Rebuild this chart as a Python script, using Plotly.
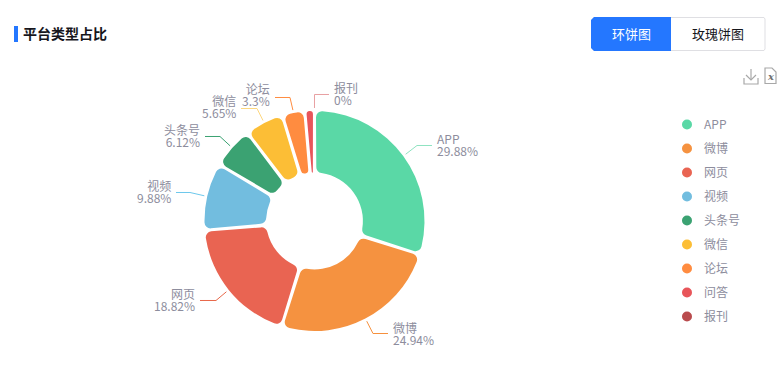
import math
import plotly.graph_objects as go

W, H = 777, 392
names = ["APP", "微博", "网页", "视频", "头条号", "微信", "论坛", "问答", "报刊"]
values = [29.88, 24.94, 18.82, 9.88, 6.12, 5.65, 3.3, 1.41, 0]
colors = ["#5ad8a6", "#f59240", "#e96452", "#72bddf", "#3ba272", "#fcbe36", "#ff8c40", "#e8555a", "#b94b4d"]
line_colors = ["#8fe3c1", "#f6903d", "#e8684a", "#6dc8ec", "#3ba272", "#fdd77f", "#ff8c40", "#e8555a", "#e8a0a2"]
title = "平台类型占比"
buttons = ["环饼图", "玫瑰饼图"]

CX, CY, R = 314.5, 221, 110
TEXT = "#8d8d9d"
FONT = "Noto Sans CJK SC, Noto Sans, sans-serif"

def X(p):
    return p / W

def Y(p):
    return 1 - p / H

def P(points, close=False):
    s = "M" + " L".join(f"{X(a):.5f},{Y(b):.5f}" for a, b in points)
    return s + (" Z" if close else "")

# elbow, end of leader, text side, text x, and the two text rows
leaders = {
    "APP": ((417, 145.5), (432, 145.5), "left", 435, 138, 151),
    "微博": ((373, 333.5), (388, 333.5), "left", 391, 327, 339),
    "网页": ((216, 300.5), (200, 300.5), "right", 197, 293, 305),
    "视频": ((190, 192.5), (176, 192.5), "right", 173, 185, 198),
    "头条号": ((220, 136.5), (205, 136.5), "right", 202, 129, 142),
    "微信": ((257, 108.5), (241, 108.5), "right", 238, 100, 113),
    "论坛": ((290, 97.5), (275, 97.5), "right", 272, 88, 100),
    "报刊": ((314.5, 94.5), (329, 94.5), "left", 332, 87, 99),
}

fig = go.Figure()
fig.add_trace(go.Pie(
    labels=names, values=values, sort=False, direction="clockwise", rotation=0,
    hole=0.44, textinfo="none", hoverinfo="label+percent", showlegend=False,
    marker=dict(colors=colors, line=dict(color="white", width=0)),
    domain=dict(x=[X(CX - R), X(CX + R)], y=[Y(CY + R), Y(CY - R)]),
))
for n, c in zip(names, colors):
    fig.add_trace(go.Scatter(
        x=[None], y=[None], mode="markers", name=n, legendgroup=n,
        marker=dict(color=c, size=10, symbol="circle"),
    ))

shapes = []
annotations = []
total = sum(values)
cum = 0
for n, v, lc in zip(names, values, line_colors):
    mid = (cum + v / 2) / total * 2 * math.pi
    cum += v
    if n not in leaders:
        continue
    elbow, end, side, tx, y1, y2 = leaders[n]
    start = (CX + (R + 3) * math.sin(mid), CY - (R + 3) * math.cos(mid))
    shapes.append(dict(type="path", xref="paper", yref="paper", path=P([start, elbow, end]),
                       line=dict(color=lc, width=1)))
    annotations.append(dict(xref="paper", yref="paper", x=X(tx), y=Y((y1 + y2) / 2), text=f"{n}<br>{v}%",
                            showarrow=False, xanchor=side, yanchor="middle", align=side,
                            font=dict(size=12, color=TEXT, family=FONT)))

# header
shapes.append(dict(type="rect", xref="paper", yref="paper", x0=X(14), x1=X(18), y0=Y(26), y1=Y(42),
                   fillcolor="#2477ff", line_width=0))
annotations.append(dict(xref="paper", yref="paper", x=X(21), y=Y(33), text=f"<b>{title}</b>", showarrow=False,
                        xanchor="left", yanchor="middle", font=dict(size=14, color="#16161c", family=FONT)))
# toggle buttons
shapes.append(dict(type="path", xref="paper", yref="paper",
                   path=P([(594, 17.5), (764, 17.5), (765, 19), (765, 49), (764, 50.5), (594, 50.5), (591.5, 48), (591.5, 20)], True),
                   fillcolor="white", line=dict(color="#dfdfe3", width=1)))
shapes.append(dict(type="path", xref="paper", yref="paper",
                   path=P([(594, 17), (671, 17), (671, 51), (594, 51), (591, 48), (591, 20)], True),
                   fillcolor="#2477ff", line_width=0))
annotations.append(dict(xref="paper", yref="paper", x=X(631.5), y=Y(33.5), text=buttons[0], showarrow=False,
                        xanchor="center", yanchor="middle", font=dict(size=13, color="white", family=FONT)))
annotations.append(dict(xref="paper", yref="paper", x=X(718), y=Y(33.5), text=buttons[1], showarrow=False,
                        xanchor="center", yanchor="middle", font=dict(size=13, color="#16161c", family=FONT)))
# download and excel icons
icon = dict(color="#a8a8a8", width=1.2)
for pts in ([(751, 69), (751, 80)], [(746, 75), (751, 80), (756, 75)], [(744, 78), (744, 84), (758, 84), (758, 78)]):
    shapes.append(dict(type="path", xref="paper", yref="paper", path=P(pts), line=icon))
shapes.append(dict(type="path", xref="paper", yref="paper",
                   path=P([(765, 68), (772, 68), (776, 72), (776, 83.5), (765, 83.5)], True), line=icon))
annotations.append(dict(xref="paper", yref="paper", x=X(770.5), y=Y(76), text="<b><i>x</i></b>", showarrow=False,
                        xanchor="center", yanchor="middle",
                        font=dict(size=10, color="#707070", family="DejaVu Serif")))

fig.update_layout(
    width=W, height=H, autosize=False, margin=dict(l=0, r=0, t=0, b=0),
    paper_bgcolor="white", plot_bgcolor="white",
    xaxis=dict(visible=False), yaxis=dict(visible=False),
    shapes=shapes, annotations=annotations,
    legend=dict(x=X(667), y=Y(110), xanchor="left", yanchor="top", tracegroupgap=5,
                font=dict(size=12, color=TEXT, family=FONT), bgcolor="rgba(0,0,0,0)",
                itemclick=False, itemdoubleclick=False),
)

post = r"""
document.body.style.margin = '0';
var gd = document.getElementById('{plot_id}');
var K = 6, GAP = 1.6, LINE_EM = '1.04em';
function roundPies() {
  gd.querySelectorAll('g.slice').forEach(function (g) {
    var pt = g.__data__;
    var path = g.querySelector('path.surface');
    if (!pt || !path || !pt.v) return;
    var cd0 = gd.calcdata[0][0], tr = cd0.trace;
    var R = cd0.r, r = cd0.r * tr.hole;
    var cx = cd0.cx, cy = cd0.cy;
    var a0 = Math.atan2(pt.px0[1], pt.px0[0]);
    var a1 = Math.atan2(pt.px1[1], pt.px1[0]);
    if (a1 <= a0) a1 += 2 * Math.PI;
    var p = function (rad, a) {
      return (cx + rad * Math.cos(a)).toFixed(2) + ' ' + (cy + rad * Math.sin(a)).toFixed(2);
    };
    var ga0 = a0 + GAP / R, ga1 = a1 - GAP / R;
    var gi0 = a0 + GAP / r, gi1 = a1 - GAP / r;
    var s0 = Math.sin((ga1 - ga0) / 2), si = Math.max(Math.sin((gi1 - gi0) / 2), 0.02);
    var kO = Math.min(K, R * s0 / (1 + s0) * 0.98), kI = Math.min(K, r * si / (1 - si) * 0.98);
    var fO = Math.asin(kO / (R - kO)), fI = Math.asin(kI / (r + kI));
    var eO = Math.sqrt((R - kO) * (R - kO) - kO * kO), eI = Math.sqrt((r + kI) * (r + kI) - kI * kI);
    var big = (ga1 - ga0 - 2 * fO) > Math.PI ? 1 : 0;
    var A = function (rr, large, sweep, to) { return 'A' + rr + ' ' + rr + ' 0 ' + large + ' ' + sweep + ' ' + to; };
    var d = 'M' + p(eO, ga0) + A(kO, 0, 1, p(R, ga0 + fO)) + A(R, big, 1, p(R, ga1 - fO))
      + A(kO, 0, 1, p(eO, ga1)) + 'L' + p(eI, gi1) + A(kI, 0, 1, p(r, gi1 - fI))
      + A(r, big, 0, p(r, gi0 + fI)) + A(kI, 0, 1, p(eI, gi0)) + 'Z';
    path.setAttribute('d', d);
  });
}
function tighten() {
  gd.querySelectorAll('.annotation-text').forEach(function (t) {
    var lines = t.querySelectorAll('tspan.line');
    if (lines.length !== 2 || lines[1].getAttribute('dy') === LINE_EM) return;
    lines[1].setAttribute('dy', LINE_EM);
    lines.forEach(function (l) { l.setAttribute('y', parseFloat(l.getAttribute('y')) + 1.5); });
  });
  gd.querySelectorAll('.legendtext').forEach(function (t) {
    if (t.dataset.moved) return;
    t.dataset.moved = '1';
    t.setAttribute('x', parseFloat(t.getAttribute('x')) - 3);
  });
}
function dress() { roundPies(); tighten(); }
dress();
gd.on('plotly_afterplot', dress);
"""

fig.write_html("out.html", post_script=post, config=dict(displayModeBar=False))
